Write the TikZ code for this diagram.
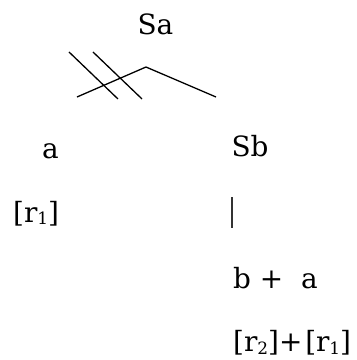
\documentclass[tikz,border=0pt]{standalone}
\usepackage{fontspec}
\setmainfont{DejaVu Serif}
\usepackage{tikz}

\newcommand{\rsub}[1]{\raisebox{-0.1em}{\fontsize{17}{17}\selectfont #1}}

\begin{document}
\begin{tikzpicture}[scale=0.2]
				\tikzstyle{every node}+=[inner sep=0pt, font=\fontsize{28}{34}\selectfont]
				\useasboundingbox (0,0) rectangle (62.97,-63.50);
				\draw (27.43,-6.17) node [anchor=base] (sa) {Sa};
				\coordinate (left) at (13.58,-17.11);
				\coordinate (top) at (25.75,-11.82);
				\coordinate (right) at (38.10,-17.11);
				\draw [black, line width=1.3pt] (left) -- (top) -- (right);
				\coordinate (cutaa) at (12.17,-9.17);
				\coordinate (cutab) at (20.81,-17.46);
				\coordinate (cutba) at (16.40,-9.17);
				\coordinate (cutbb) at (25.05,-17.46);
				\draw [black, line width=1.3pt] (cutaa) -- (cutab);
				\draw [black, line width=1.3pt] (cutba) -- (cutbb);
				\draw (8.91,-27.87) node [anchor=base] (a) {a};
				\draw (44.10,-27.69) node [anchor=base] (sb) {Sb};
				\draw (2.29,-39.16) node [anchor=base west] (ra) {[r\rsub{1}]};
				\coordinate (bara) at (40.92,-34.75);
				\coordinate (barb) at (40.92,-40.22);
				\draw [black!80, line width=1.2pt] (bara) -- (barb);
				\draw (41.10,-50.80) node [anchor=base west] (ba) {b + \ a};
				\draw (41.10,-61.95) node [anchor=base west] (rr) {[r\rsub{2}]+\hspace{0.1em}[r\rsub{1}]};
			\end{tikzpicture}
\end{document}
